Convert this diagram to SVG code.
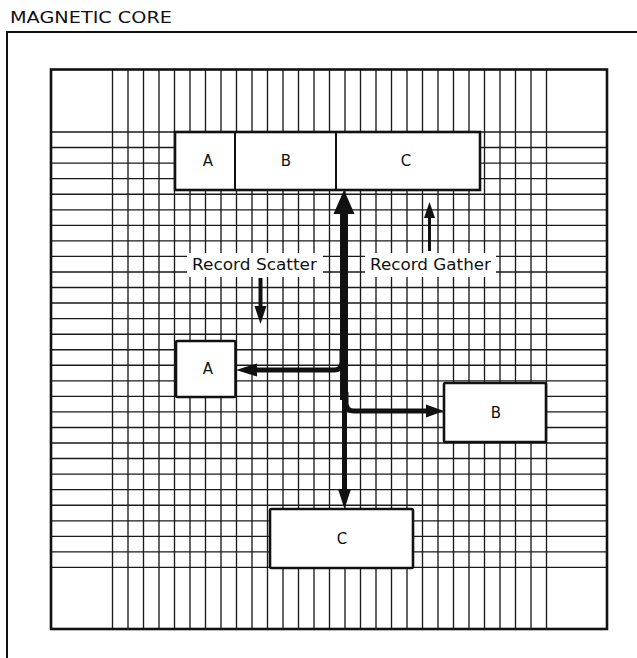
<svg xmlns="http://www.w3.org/2000/svg" width="637" height="658" viewBox="0 0 637 658">
<style>
.frame{fill:none;stroke:#111;stroke-width:2}
.grid line{stroke:#1a1a1a;stroke-width:1.35}
.box{fill:#fff;stroke:#111;stroke-width:2.6}
.div{stroke:#111;stroke-width:2}
.lbl{font-family:"DejaVu Sans","Liberation Sans",sans-serif;font-size:15px;fill:#111;text-anchor:middle}
.cap{font-family:"DejaVu Sans","Liberation Sans",sans-serif;font-size:16.5px;fill:#111}
.title{font-family:"DejaVu Sans","Liberation Sans",sans-serif;font-size:15px;fill:#111}
.bg{fill:#fff;stroke:none}
.wire{fill:none;stroke:#111;stroke-linejoin:round}
.head{fill:#111;stroke:none}
</style>
<rect x="0" y="0" width="637" height="658" fill="#fff"/>
<text class="title" x="10" y="23" textLength="162" lengthAdjust="spacingAndGlyphs">MAGNETIC  CORE</text>
<path class="frame" d="M7 658 V32 H637"/>
<g id="core-grid" class="grid">
<line x1="112.5" y1="69" x2="112.5" y2="629"/><line x1="128" y1="69" x2="128" y2="629"/><line x1="143.5" y1="69" x2="143.5" y2="629"/><line x1="159" y1="69" x2="159" y2="629"/><line x1="174.5" y1="69" x2="174.5" y2="629"/><line x1="190" y1="69" x2="190" y2="629"/><line x1="205.5" y1="69" x2="205.5" y2="629"/><line x1="221" y1="69" x2="221" y2="629"/><line x1="236.5" y1="69" x2="236.5" y2="629"/><line x1="252" y1="69" x2="252" y2="629"/><line x1="267.5" y1="69" x2="267.5" y2="629"/><line x1="283" y1="69" x2="283" y2="629"/><line x1="298.5" y1="69" x2="298.5" y2="629"/><line x1="314" y1="69" x2="314" y2="629"/><line x1="329.5" y1="69" x2="329.5" y2="629"/><line x1="345" y1="69" x2="345" y2="629"/><line x1="360.5" y1="69" x2="360.5" y2="629"/><line x1="376" y1="69" x2="376" y2="629"/><line x1="391.5" y1="69" x2="391.5" y2="629"/><line x1="407" y1="69" x2="407" y2="629"/><line x1="422.5" y1="69" x2="422.5" y2="629"/><line x1="438" y1="69" x2="438" y2="629"/><line x1="453.5" y1="69" x2="453.5" y2="629"/><line x1="469" y1="69" x2="469" y2="629"/><line x1="484.5" y1="69" x2="484.5" y2="629"/><line x1="500" y1="69" x2="500" y2="629"/><line x1="515.5" y1="69" x2="515.5" y2="629"/><line x1="531" y1="69" x2="531" y2="629"/><line x1="546.5" y1="69" x2="546.5" y2="629"/>
<line x1="51" y1="132" x2="607" y2="132"/><line x1="51" y1="147.5" x2="607" y2="147.5"/><line x1="51" y1="163.1" x2="607" y2="163.1"/><line x1="51" y1="178.6" x2="607" y2="178.6"/><line x1="51" y1="194.2" x2="607" y2="194.2"/><line x1="51" y1="209.8" x2="607" y2="209.8"/><line x1="51" y1="225.3" x2="607" y2="225.3"/><line x1="51" y1="240.9" x2="607" y2="240.9"/><line x1="51" y1="256.4" x2="607" y2="256.4"/><line x1="51" y1="272" x2="607" y2="272"/><line x1="51" y1="287.5" x2="607" y2="287.5"/><line x1="51" y1="303" x2="607" y2="303"/><line x1="51" y1="318.6" x2="607" y2="318.6"/><line x1="51" y1="334.2" x2="607" y2="334.2"/><line x1="51" y1="349.7" x2="607" y2="349.7"/><line x1="51" y1="365.2" x2="607" y2="365.2"/><line x1="51" y1="380.8" x2="607" y2="380.8"/><line x1="51" y1="396.4" x2="607" y2="396.4"/><line x1="51" y1="411.9" x2="607" y2="411.9"/><line x1="51" y1="427.5" x2="607" y2="427.5"/><line x1="51" y1="443" x2="607" y2="443"/><line x1="51" y1="458.5" x2="607" y2="458.5"/><line x1="51" y1="474.1" x2="607" y2="474.1"/><line x1="51" y1="489.6" x2="607" y2="489.6"/><line x1="51" y1="505.2" x2="607" y2="505.2"/><line x1="51" y1="520.8" x2="607" y2="520.8"/><line x1="51" y1="536.3" x2="607" y2="536.3"/><line x1="51" y1="551.9" x2="607" y2="551.9"/><line x1="51" y1="567.4" x2="607" y2="567.4"/>
</g>
<rect class="frame" x="51" y="69.5" width="556" height="559.5" style="stroke-width:2.6"/>
<g id="record">
<rect class="box" x="175" y="132" width="305" height="58"/>
<line class="div" x1="235" y1="132" x2="235" y2="190"/>
<line class="div" x1="336" y1="132" x2="336" y2="190"/>
<text class="lbl" x="208" y="166">A</text>
<text class="lbl" x="286" y="166">B</text>
<text class="lbl" x="406" y="166">C</text>
</g>
<g id="label-scatter">
<rect class="bg" x="187" y="253" width="136" height="24"/>
<text class="cap" x="192" y="270" textLength="125" lengthAdjust="spacingAndGlyphs">Record Scatter</text>
</g>
<g id="label-gather">
<rect class="bg" x="365" y="253" width="131" height="24"/>
<text class="cap" x="370" y="270" textLength="121" lengthAdjust="spacingAndGlyphs">Record Gather</text>
</g>
<g id="box-a">
<rect class="box" x="176" y="341" width="59.5" height="56" rx="1.5"/>
<text class="lbl" x="208" y="374">A</text>
</g>
<g id="box-b">
<rect class="box" x="444" y="383" width="102" height="59" rx="1.5"/>
<text class="lbl" x="496" y="418">B</text>
</g>
<g id="box-c">
<rect class="box" x="270" y="509" width="143" height="59" rx="1.5"/>
<text class="lbl" x="342" y="544">C</text>
</g>
<g id="connectors">
<path class="wire" d="M344 210 V400" stroke-width="8"/>
<polygon class="head" points="344,190 333.5,214 354.5,214"/>
<path class="wire" d="M342 350 V362 Q342 370 334 370 H254" stroke-width="5"/>
<polygon class="head" points="236,370 257,363.5 257,376.5"/>
<path class="wire" d="M346 392 V403 Q346 411 354 411 H428" stroke-width="5"/>
<polygon class="head" points="444,411 426,404.5 426,417.5"/>
<path class="wire" d="M344.5 395 V492" stroke-width="5"/>
<polygon class="head" points="344.5,509 338,489 351,489"/>
<path class="wire" d="M429.5 251 V214" stroke-width="3"/>
<polygon class="head" points="429.5,202 424,218 435,218"/>
<path class="wire" d="M260.5 278 V309" stroke-width="4"/>
<polygon class="head" points="260.5,324 254.5,306 266.5,306"/>
</g>
</svg>
